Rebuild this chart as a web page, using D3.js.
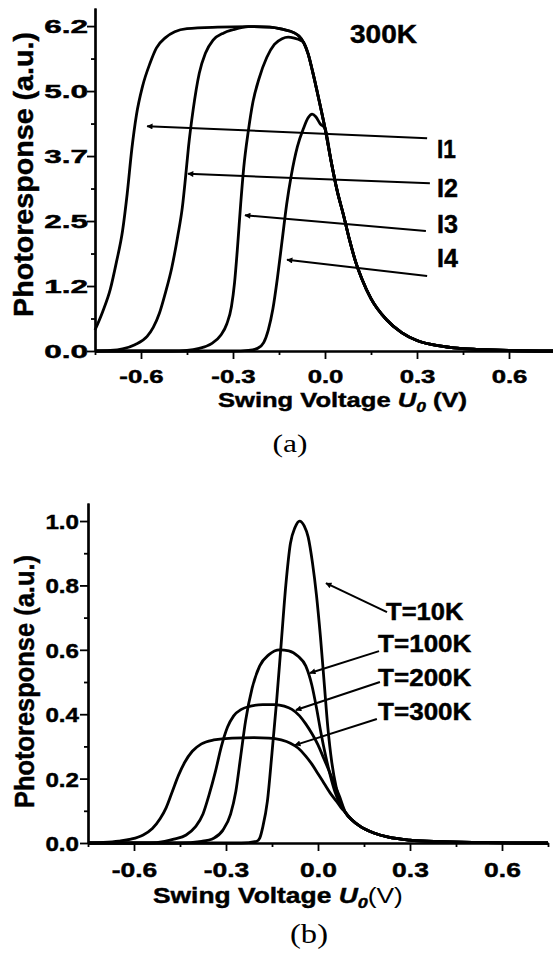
<!DOCTYPE html>
<html>
<head>
<meta charset="utf-8">
<script src="https://cdn.jsdelivr.net/npm/d3@7"></script>
<style>
  body { margin: 0; background: #fff; }
  svg { display: block; background: #fff; }
  .heavy { stroke: #000; stroke-width: 0.45px; }
</style>
</head>
<body>
<svg width="553" height="958"></svg>
<script>
(function () {
  'use strict';

  // ---- data (swing voltage V, photoresponse a.u.) ----
  var xMajor = [-0.6, -0.3, 0, 0.3, 0.6];
  var xMinor = [-0.75, -0.45, -0.15, 0.15, 0.45, 0.75];
  var yMajorA = [0, 1.24, 2.48, 3.72, 4.96, 6.2];
  var yMinorA = [0.62, 1.86, 3.1, 4.34, 5.58];
  var yMajorB = [0, 0.2, 0.4, 0.6, 0.8, 1.0];
  var yMinorB = [0.1, 0.3, 0.5, 0.7, 0.9];

  // panel (a): shared plateau + falling edge, and each curve's rising part
  var fallA = [[-0.45,6.15],[-0.35,6.18],[-0.25,6.19],[-0.18,6.18],[-0.14,6.14],[-0.10,6.07],
    [-0.085,6.01],[-0.07,5.89],[-0.055,5.67],[-0.04,5.32],[-0.02,4.80],[0.0,4.25],[0.02,3.62],
    [0.04,3.05],[0.06,2.60],[0.08,2.12],[0.10,1.70],[0.12,1.38],[0.15,1.00],[0.20,0.60],
    [0.25,0.35],[0.30,0.20],[0.35,0.12],[0.42,0.06],[0.50,0.03],[0.60,0.01],[0.75,0.0]];
  var i1Rise = [[-0.75,0.40],[-0.725,0.75],[-0.70,1.18],[-0.68,1.70],[-0.66,2.30],[-0.645,3.00],
    [-0.63,3.85],[-0.615,4.50],[-0.595,5.05],[-0.57,5.50],[-0.55,5.78],[-0.52,5.98],[-0.49,6.09]];
  var i2Rise = [[-0.75,0],[-0.70,0.01],[-0.66,0.04],[-0.62,0.12],[-0.58,0.28],[-0.56,0.45],
    [-0.54,0.72],[-0.52,1.12],[-0.50,1.58],[-0.48,2.2],[-0.465,2.75],[-0.455,3.3],[-0.445,3.9],
    [-0.43,4.6],[-0.41,5.3],[-0.39,5.68],[-0.365,5.93],[-0.33,6.07],[-0.30,6.13]];
  var i3Rise = [[-0.75,0],[-0.50,0],[-0.45,0.01],[-0.41,0.05],[-0.37,0.14],[-0.34,0.3],
    [-0.32,0.52],[-0.305,0.85],[-0.295,1.3],[-0.285,2.0],[-0.275,2.8],[-0.265,3.5],[-0.25,4.2],
    [-0.235,4.75],[-0.215,5.2],[-0.19,5.6],[-0.165,5.85],[-0.14,5.96],[-0.12,5.99],[-0.10,5.97],
    [-0.08,5.93]];
  var i4Rise = [[-0.75,0],[-0.30,0],[-0.25,0.01],[-0.22,0.05],[-0.20,0.16],[-0.185,0.4],
    [-0.17,0.8],[-0.155,1.4],[-0.14,2.1],[-0.125,2.8],[-0.11,3.35],[-0.09,3.9],[-0.07,4.25],
    [-0.055,4.45],[-0.042,4.52],[-0.03,4.47],[-0.015,4.33]];

  // panel (b): shared tail and each temperature's curve
  var tailB = [[0.09,0.094],[0.11,0.072],[0.14,0.05],[0.18,0.032],[0.23,0.018],[0.30,0.009],
    [0.40,0.004],[0.55,0.001],[0.75,0]];
  var t10 = [[-0.75,0],[-0.25,0],[-0.20,0.005],[-0.19,0.015],[-0.18,0.05],[-0.165,0.13],
    [-0.15,0.28],[-0.135,0.44],[-0.12,0.62],[-0.105,0.8],[-0.09,0.93],[-0.075,0.98],[-0.06,1.0],
    [-0.045,0.985],[-0.032,0.95],[-0.018,0.87],[-0.005,0.77],[0.008,0.64],[0.02,0.5],
    [0.032,0.36],[0.045,0.25],[0.06,0.17],[0.075,0.12]];
  var t100 = [[-0.75,0],[-0.45,0],[-0.38,0.005],[-0.34,0.015],[-0.31,0.04],[-0.285,0.09],
    [-0.268,0.16],[-0.252,0.27],[-0.236,0.38],[-0.215,0.48],[-0.19,0.55],[-0.16,0.585],
    [-0.125,0.6],[-0.095,0.597],[-0.065,0.58],[-0.04,0.55],[-0.02,0.49],[-0.005,0.42],
    [0.01,0.34],[0.025,0.27],[0.04,0.21],[0.055,0.16],[0.07,0.125]];
  var t200 = [[-0.75,0],[-0.55,0],[-0.50,0.005],[-0.47,0.012],[-0.43,0.025],[-0.40,0.05],
    [-0.375,0.09],[-0.355,0.15],[-0.335,0.22],[-0.315,0.3],[-0.295,0.36],[-0.275,0.395],
    [-0.25,0.415],[-0.22,0.425],[-0.18,0.43],[-0.14,0.43],[-0.11,0.425],[-0.085,0.415],
    [-0.06,0.395],[-0.04,0.37],[-0.02,0.34],[0.0,0.305],[0.02,0.26],[0.04,0.215],[0.055,0.18],
    [0.07,0.145]];
  var t300 = [[-0.75,0],[-0.70,0.002],[-0.65,0.006],[-0.61,0.012],[-0.57,0.025],[-0.54,0.045],
    [-0.515,0.075],[-0.495,0.11],[-0.475,0.16],[-0.455,0.21],[-0.435,0.25],[-0.41,0.285],
    [-0.38,0.308],[-0.34,0.32],[-0.28,0.326],[-0.21,0.327],[-0.16,0.326],[-0.12,0.32],
    [-0.09,0.31],[-0.065,0.295],[-0.04,0.27],[-0.02,0.245],[0.0,0.215],[0.02,0.185],
    [0.04,0.155],[0.06,0.13],[0.075,0.11]];

  // annotations: label, label anchor (V,P), arrow tail (V,P), arrow head (V,P)
  var labelsA = ["I1", "I2", "I3", "I4"];
  var labelPosA = [[0.365,3.68],[0.365,2.94],[0.365,2.25],[0.365,1.60]];
  var arrowsA = [[0.333,4.06,-0.580,4.29],[0.342,3.20,-0.447,3.38],[0.329,2.29,-0.261,2.59],[0.333,1.43,-0.124,1.74]];
  var labelsB = ["T=10K", "T=100K", "T=200K", "T=300K"];
  var labelPosB = [[0.222,0.693],[0.196,0.593],[0.196,0.488],[0.196,0.382]];
  var arrowsB = [[0.225,0.717,0.026,0.807],[0.199,0.596,-0.026,0.528],[0.202,0.50,-0.072,0.413],[0.192,0.385,-0.075,0.304]];

  function joinTail(rise, tail) {
    var last = rise[rise.length - 1][0];
    return rise.concat(tail.filter(function(d) { return d[0] > last; }));
  }

  var svg = d3.select("svg");
  var SANS = "'Liberation Sans', Arial, sans-serif";

  svg.append("defs").append("marker")
      .attr("id", "head")
      .attr("viewBox", "0 0 10 10")
      .attr("refX", 9).attr("refY", 5)
      .attr("markerUnits", "userSpaceOnUse")
      .attr("markerWidth", 11).attr("markerHeight", 6)
      .attr("orient", "auto")
    .append("path")
      .attr("d", "M0,0L10,5L0,10z")
      .attr("fill", "#000");

  // stretch a text horizontally so that it covers a given width
  function place(t, x, y, width, rot) {
    var w = t.node().getBBox().width;
    var sx = width ? width / w : 1;
    t.attr("transform", "translate(" + x + "," + y + ")" + (rot ? " rotate(" + rot + ")" : "") + " scale(" + sx + ",1)");
  }

  function drawPanel(p) {
    var x = d3.scaleLinear().domain([-0.75, 0.75]).range(p.xRange);
    var y = d3.scaleLinear().domain(p.yDomain).range(p.yRange);
    var g = svg.append("g");
    var fmt = function(d) { return d.toFixed(1); };

    var gx = g.append("g").attr("transform", "translate(0," + p.yRange[0] + ")");
    gx.append("g").call(d3.axisBottom(x).tickValues(xMinor).tickSize(4).tickSizeOuter(0).tickFormat(""));
    gx.append("g").call(d3.axisBottom(x).tickValues(xMajor).tickSize(8).tickSizeOuter(0).tickFormat(fmt));

    var gy = g.append("g").attr("transform", "translate(" + p.xRange[0] + ",0)");
    gy.append("g").call(d3.axisLeft(y).tickValues(p.yMinor).tickSize(4).tickSizeOuter(0).tickFormat(""));
    gy.append("g").call(d3.axisLeft(y).tickValues(p.yMajor).tickSize(8).tickSizeOuter(0).tickFormat(fmt));

    g.selectAll(".domain").attr("stroke-width", 2.2);
    g.selectAll(".tick line").attr("stroke-width", 1.8);

    gx.selectAll(".tick text")
        .attr("class", "heavy")
        .attr("x", null).attr("y", null).attr("dy", null)
        .style("font-family", SANS).style("font-weight", "bold").style("font-size", p.xTickSize + "px")
        .attr("text-anchor", "middle")
        .attr("transform", "translate(0," + p.xTickDy + ") scale(" + p.xTickSx + ",1)");
    gy.selectAll(".tick text")
        .attr("class", "heavy")
        .attr("x", null).attr("y", null).attr("dy", null)
        .style("font-family", SANS).style("font-weight", "bold").style("font-size", p.yTickSize + "px")
        .attr("text-anchor", "end")
        .attr("transform", "translate(" + p.yTickDx + "," + p.yTickDy + ") scale(" + p.yTickSx + ",1)");

    var line = d3.line()
        .x(function(d) { return x(d[0]); })
        .y(function(d) { return y(d[1]); })
        .curve(d3.curveMonotoneX);

    g.selectAll("path.curve")
      .data(p.series)
      .enter().append("path")
        .attr("class", "curve")
        .attr("d", line)
        .attr("fill", "none")
        .attr("stroke", "#000")
        .attr("stroke-width", 2.8)
        .attr("stroke-linejoin", "round");

    g.selectAll("line.arrow")
      .data(p.arrows)
      .enter().append("line")
        .attr("class", "arrow")
        .attr("x1", function(d) { return x(d[0]); })
        .attr("y1", function(d) { return y(d[1]); })
        .attr("x2", function(d) { return x(d[2]); })
        .attr("y2", function(d) { return y(d[3]); })
        .attr("stroke", "#000")
        .attr("stroke-width", 2)
        .attr("marker-end", "url(#head)");

    p.labels.forEach(function(s, i) {
      var t = g.append("text").attr("class", "heavy")
          .style("font-family", SANS).style("font-weight", "bold").style("font-size", p.labelSize + "px")
          .text(s);
      place(t, x(p.labelPos[i][0]), y(p.labelPos[i][1]), p.labelWidths[i]);
    });

    // y label
    var yl = g.append("text").attr("class", "heavy")
        .attr("text-anchor", "middle")
        .style("font-family", SANS).style("font-weight", "bold").style("font-size", p.yLabel.size + "px")
        .text("Photoresponse (a.u.)");
    place(yl, p.yLabel.x, p.yLabel.y, p.yLabel.width, -90);

    // x label
    var xl = g.append("text").attr("class", "heavy")
        .style("font-family", SANS).style("font-weight", "bold").style("font-size", p.xLabel.size + "px");
    xl.append("tspan").text("Swing Voltage ");
    xl.append("tspan").style("font-style", "italic").text("U");
    xl.append("tspan").style("font-style", "italic").style("font-size", "0.68em").attr("dy", 5).text("0");
    xl.append("tspan").attr("dy", -5).style("font-weight", p.xLabel.vWeight)
        .style("stroke-width", p.xLabel.vWeight === "bold" ? null : "0px").text(p.xLabel.tail);
    place(xl, p.xLabel.x, p.xLabel.y, p.xLabel.width);

    var cap = g.append("text")
        .attr("text-anchor", "middle")
        .style("font-family", "'Liberation Serif', 'Times New Roman', serif")
        .style("font-size", p.caption.size + "px")
        .text(p.caption.text);
    place(cap, p.caption.x, p.caption.y, p.caption.width);

    return { x: x, y: y, g: g };
  }

  var a = drawPanel({
    xRange: [95, 555], yDomain: [0, 6.545], yRange: [351, 8],
    yMajor: yMajorA, yMinor: yMinorA,
    xTickSize: 18, xTickDy: 32, xTickSx: 1.43,
    yTickSize: 18, yTickDx: -7, yTickDy: 6.5, yTickSx: 1.75,
    series: [joinTail(i1Rise, fallA), joinTail(i2Rise, fallA), joinTail(i3Rise, fallA), joinTail(i4Rise, fallA)],
    arrows: arrowsA, labels: labelsA, labelPos: labelPosA, labelWidths: [19, 21, 21, 21], labelSize: 25,
    yLabel: { x: 33, y: 174.5, width: 285, size: 28 },
    xLabel: { x: 218, y: 407, width: 249, size: 21, tail: " (V)", vWeight: "bold" },
    caption: { text: "(a)", x: 290, y: 452, width: 35, size: 26 }
  });

  var t300k = a.g.append("text").attr("class", "heavy")
      .style("font-family", SANS).style("font-weight", "bold").style("font-size", "25px")
      .text("300K");
  place(t300k, a.x(0.0815), a.y(5.875), 67);

  drawPanel({
    xRange: [88, 548], yDomain: [0, 1.056], yRange: [843, 503],
    yMajor: yMajorB, yMinor: yMinorB,
    xTickSize: 21, xTickDy: 34, xTickSx: 1.26,
    yTickSize: 21, yTickDx: -9, yTickDy: 7.5, yTickSx: 1.15,
    series: [joinTail(t10, tailB), joinTail(t100, tailB), joinTail(t200, tailB), joinTail(t300, tailB)],
    arrows: arrowsB, labels: labelsB, labelPos: labelPosB, labelWidths: [78, 94, 94, 94], labelSize: 24,
    yLabel: { x: 34, y: 681.5, width: 253, size: 27 },
    xLabel: { x: 153, y: 903, width: 250, size: 22, tail: "(V)", vWeight: "normal" },
    caption: { text: "(b)", x: 309, y: 943, width: 38, size: 28 }
  });
}());
</script>
</body>
</html>
